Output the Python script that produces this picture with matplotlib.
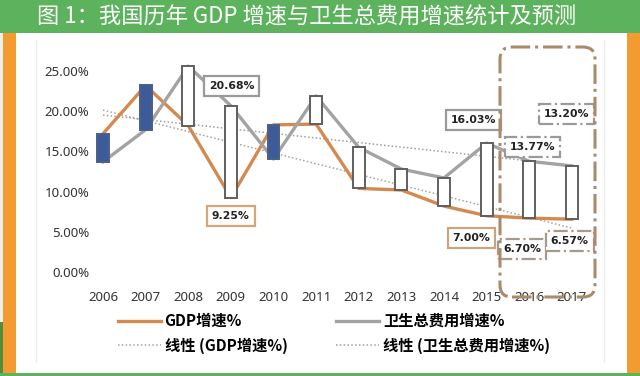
import numpy as np
import matplotlib
matplotlib.use("Agg")
from matplotlib import pyplot as plt
from matplotlib.patches import Rectangle, FancyBboxPatch
from matplotlib.lines import Line2D

plt.rcParams['font.family'] = ['Noto Sans CJK SC', 'DejaVu Sans']

# data (%)
years = ['2006', '2007', '2008', '2009', '2010', '2011', '2012', '2013', '2014', '2015', '2016', '2017']
gdp_growth = [17.2, 23.2, 18.2, 9.25, 18.3, 18.4, 10.4, 10.2, 8.2, 7.00, 6.70, 6.57]
health_growth = [13.7, 17.7, 25.6, 20.68, 14.05, 21.9, 15.5, 12.8, 11.7, 16.03, 13.77, 13.20]
y_ticks = [0, 5, 10, 15, 20, 25]

# labelled points: (year index, series, offset in px, border colour, border style)
labels = [
    (3, 'health', (1, 20), '#9a9a9a', '-'),
    (3, 'gdp', (0, -18), '#d9a47a', '-'),
    (9, 'health', (-13, 23), '#9a9a9a', '-'),
    (9, 'gdp', (-15, -22), '#c9a57c', '-'),
    (10, 'health', (3, 14), '#9a9a9a', '-.'),
    (10, 'gdp', (-7, -31), '#a89a8a', '-.'),
    (11, 'health', (-5, 52), '#9a9a9a', '-.'),
    (11, 'gdp', (-2, -22), '#a89a8a', '-.'),
]

GREEN = '#5db35d'
ORANGE = '#f39a30'
GDP_COL = '#d4894f'
HEALTH_COL = '#a3a3a3'

fig = plt.figure(figsize=(6.4, 3.76), dpi=100)
fig.patch.set_facecolor('white')

# frame decoration (pixel -> inches)
def px_rect(x0, y0, x1, y1, color):
    fig.add_artist(Rectangle((x0 / 100, (376 - y1) / 100), (x1 - x0) / 100, (y1 - y0) / 100,
                             transform=fig.dpi_scale_trans, color=color, lw=0, zorder=0))

px_rect(0, 0, 640, 33, GREEN)
px_rect(0, 33, 3, 376, '#f3efe6')
px_rect(0, 322, 3, 376, '#4f8f3a')
px_rect(3, 33, 16, 373, ORANGE)
px_rect(627, 33, 640, 373, ORANGE)
px_rect(0, 373, 640, 376, GREEN)
for xp in (36, 604):
    fig.add_artist(Line2D([xp / 100, xp / 100], [(376 - 362) / 100, (376 - 40) / 100],
                          transform=fig.dpi_scale_trans, color='#ececec', lw=1, zorder=0))

fig.text(37 / 640, 1 - 17 / 376, '图 1：我国历年 GDP 增速与卫生总费用增速统计及预测',
         color='white', fontsize=16, va='center', ha='left')

ax = fig.add_axes([92 / 640, 0.2338, 508 / 640, 0.6415])
ax.set_facecolor('none')
x = np.arange(len(years))
g = np.array(gdp_growth)
h = np.array(health_growth)

ax.plot(x, g, color=GDP_COL, lw=2.4, zorder=2, label='GDP增速%')
ax.plot(x, h, color=HEALTH_COL, lw=2.4, zorder=2, label='卫生总费用增速%')

# linear trend lines
gk, gb = np.polyfit(x, g, 1)
hk, hb = np.polyfit(x, h, 1)
ax.plot(x, gk * x + gb, color='#a8a49c', lw=1.1, ls=(0, (1, 1.5)), zorder=1, label='线性 (GDP增速%)')
ax.plot(x, hk * x + hb, color='#9aa0a8', lw=1.1, ls=(0, (1, 1.5)), zorder=1, label='线性 (卫生总费用增速%)')

# up / down bars
low = np.minimum(g, h)
span = np.abs(h - g)
fills = ['#3c5b98' if gv > hv else 'white' for gv, hv in zip(g, h)]
edges = ['#4a5f88' if gv > hv else '#5f5f5f' for gv, hv in zip(g, h)]
ax.bar(x, span, bottom=low, width=0.28, color=fills, edgecolor=edges, lw=1.4, zorder=3)

for i, series, off, ec, ls in labels:
    v = health_growth[i] if series == 'health' else gdp_growth[i]
    ax.annotate(f'{v:.2f}%', (i, v), xytext=off, textcoords='offset pixels',
                ha='center', va='center', fontsize=7.8, fontweight='bold', color='#222222',
                family='DejaVu Sans',
                bbox=dict(boxstyle='square,pad=0.45', fc='white', ec=ec, lw=1.6, ls=ls), zorder=5)

# dashed forecast region
fig.add_artist(FancyBboxPatch((500 / 100, (376 - 297) / 100), 95 / 100, 250 / 100,
                              boxstyle='round,pad=0,rounding_size=0.12',
                              transform=fig.dpi_scale_trans, fill=False,
                              ec='#ab8a6c', lw=2.2, ls='-.', zorder=6))

ax.set_xlim(-0.258, 11.66)
ax.set_ylim(-2, 28)
ax.set_xticks(x)
ax.set_xticklabels(years)
ax.set_yticks(y_ticks)
ax.set_yticklabels([f'{v:.2f}%' for v in y_ticks])
ax.tick_params(length=0, labelsize=9.5, labelcolor='#333333', pad=2)
for lab in ax.get_xticklabels() + ax.get_yticklabels():
    lab.set_family(['Noto Sans', 'DejaVu Sans'])
for s in ax.spines.values():
    s.set_visible(False)

handles, names = ax.get_legend_handles_labels()
order = [0, 2, 1, 3]
fig.legend([handles[k] for k in order], [names[k] for k in order], ncol=2,
           loc='center left', bbox_to_anchor=(118 / 640, 1 - 333.5 / 376),
           frameon=False, borderpad=0, borderaxespad=0,
           handlelength=2.8, handletextpad=0.25, columnspacing=3.2, labelspacing=0.55,
           prop=dict(family=['Noto Sans CJK SC', 'DejaVu Sans'], weight='bold', size=11))

fig.savefig('out.png', dpi=100)
